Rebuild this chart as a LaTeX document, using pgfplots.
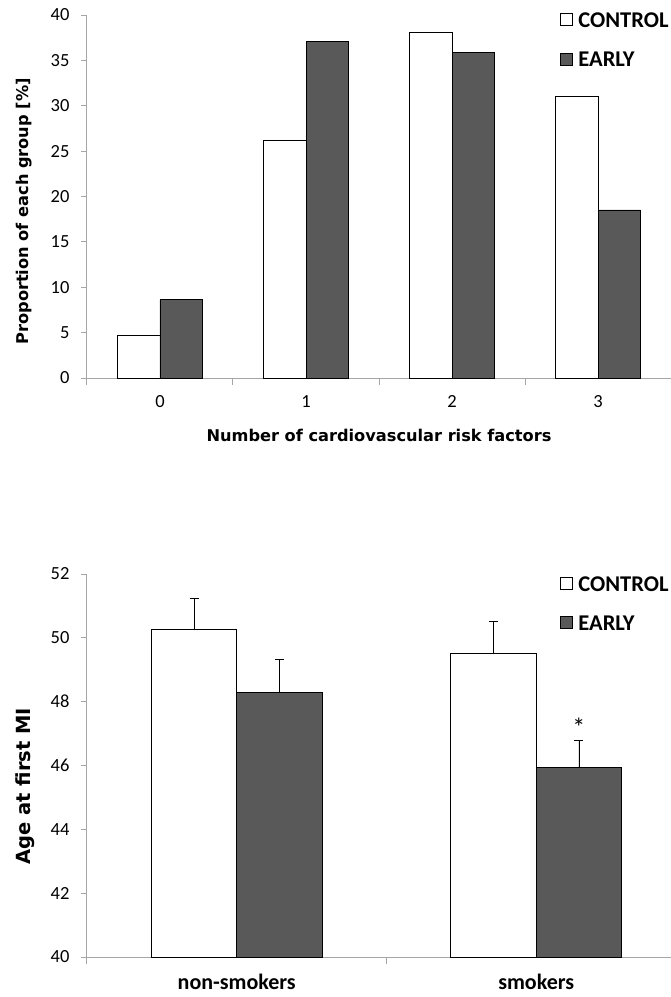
\documentclass[border=0pt]{standalone}
\usepackage{pgfplots}
\pgfplotsset{compat=1.18}
\usepackage{fontspec}
\setmainfont{Carlito}
\newfontfamily\titlefont{DejaVu Sans}
\definecolor{early}{HTML}{595959}
\definecolor{axgray}{HTML}{A6A6A6}
\pgfplotsset{
  common/.style={
    scale only axis,
    ybar=0pt,
    axis x line*=bottom, axis y line*=left,
    axis line style={axgray, line width=1pt},
    tick style={axgray, line width=1pt},
    tick align=outside,
    major tick length=6pt, minor tick length=7pt,
    major x tick style={draw=none},
    /pgf/number format/assume math mode=true,
    ticklabel style={font=\fontsize{18.5}{18.5}\selectfont},
    yticklabel style={xshift=-8pt},
    xticklabel style={yshift=-8pt},
    ylabel style={font=\titlefont\bfseries\fontsize{16.2}{18}\selectfont, anchor=center},
    xlabel style={font=\titlefont\bfseries\fontsize{16.2}{18}\selectfont},
    legend style={draw=none, fill=none, font=\bfseries\fontsize{22.5}{23}\selectfont, row sep=19pt, anchor=north west, cells={anchor=west},
      /tikz/every odd column/.append style={column sep=4pt}},
    legend image code/.code={\draw[#1, line width=0.7pt] (0pt,-5pt) rectangle (12pt,7pt);},
  }
}
\begin{document}
\begin{tikzpicture}
\path[use as bounding box, draw=none] (0pt,0pt) rectangle (671pt,-997pt);
\begin{axis}[common,
  at={(87pt,-378pt)}, anchor=south west,
  width=584pt, height=363pt,
  bar width=0.29,
  xmin=-0.5, xmax=3.5, ymin=0, ymax=40,
  ytick={0,5,...,40},
  xtick={0,1,2,3},
  minor xtick={-0.5,0.5,1.5,2.5,3.5},
  ylabel={Proportion of each group [\%]},
  ylabel style={at={(axis description cs:-0.108,0.459)}},
  xlabel={Number of cardiovascular risk factors},
  xlabel style={at={(axis description cs:0.5,-0.158)}, anchor=center},
  legend style={at={(axis description cs:0.804,1.018)}},
]
\addplot[fill=white, draw=black, line width=0.8pt] coordinates {(0,4.73) (1,26.21) (2,38.13) (3,30.98)};
\addplot[fill=early, draw=black, line width=0.8pt] coordinates {(0,8.62) (1,37.07) (2,35.86) (3,18.52)};
\legend{CONTROL, EARLY}
\end{axis}
\begin{axis}[common,
  at={(87pt,-957pt)}, anchor=south west,
  width=584pt, height=383pt,
  bar width=0.285,
  xmin=-0.5, xmax=1.45, ymin=40, ymax=52,
  ytick={40,42,...,52},
  xtick={0,1},
  xticklabels={non-smokers, smokers},
  xticklabel style={font=\bfseries\fontsize{22}{22}\selectfont},
  minor xtick={-0.5,0.5},
  ylabel={Age at first MI},
  ylabel style={font=\titlefont\bfseries\fontsize{19.5}{21}\selectfont, at={(axis description cs:-0.106,0.446)}},
  legend style={at={(axis description cs:0.804,1.005)}},
  error bars/error bar style={black, line width=0.8pt},
  error bars/error mark options={black, rotate=90, mark size=4.5pt, line width=0.8pt},
]
\addplot[fill=white, draw=black, line width=0.8pt, error bars/.cd, y dir=plus, y explicit]
  coordinates {(0,50.26) +- (0,0.99) (1,49.52) +- (0,1.0)};
\addplot[fill=early, draw=black, line width=0.8pt, error bars/.cd, y dir=plus, y explicit]
  coordinates {(0,48.285) +- (0,1.05) (1,45.95) +- (0,0.84)};
\legend{CONTROL, EARLY}
\node[font=\fontsize{26}{26}\selectfont] at (axis cs:1.1425,47.2) {*};
\end{axis}
\end{tikzpicture}
\end{document}
